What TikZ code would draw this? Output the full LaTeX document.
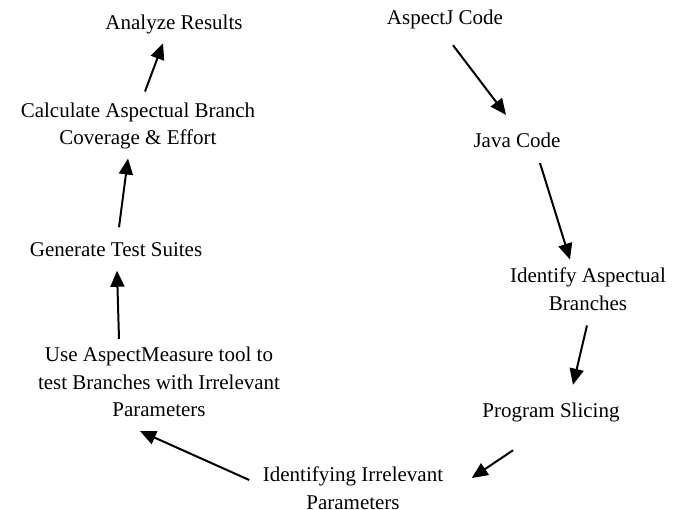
\documentclass[tikz,border=0pt]{standalone}
\usepackage{fontspec}
\setmainfont{Liberation Serif}
\usetikzlibrary{arrows.meta}

\begin{document}
\begin{tikzpicture}[x=1pt, y=-1pt, >={Triangle[length=16pt,width=14pt]},
    stage/.style={align=center, inner sep=0pt, font=\fontsize{21}{27.5}\selectfont},
    flow/.style={->, line width=2pt}]

        % page frame
        \useasboundingbox (0,0) rectangle (680,510);

        % right side: from the source code down to the parameters
        \node[stage] (aspectj) at (445,19) {AspectJ Code};
        \node[stage] (java) at (517,140) {Java Code};
        \node[stage] (branches) at (588,289) {Identify Aspectual\\Branches};
        \node[stage] (slicing) at (551,412) {Program Slicing};
        \node[stage] (irrelevant) at (353,488) {Identifying Irrelevant\\Parameters};

        % left side: testing and results
        \node[stage] (measure) at (159,382) {Use AspectMeasure tool to\\test Branches with Irrelevant\\Parameters};
        \node[stage] (suites) at (116,250) {Generate Test Suites};
        \node[stage] (coverage) at (138,126) {Calculate Aspectual Branch\\Coverage \& Effort};
        \node[stage] (results) at (174,24) {Analyze Results};

        % arrows round the cycle
        \draw[flow] ([shift={(8,16.5)}]aspectj.south) -- ([shift={(-11,-17.5)}]java.north);
        \draw[flow] ([shift={(23,15.5)}]java.south) -- ([shift={(-18,-8)}]branches.north);
        \draw[flow] ([shift={(-1,15)}]branches.south) -- ([shift={(22,-17.5)}]slicing.north);
        \draw[flow] ([shift={(-38,28.5)}]slicing.south) -- ([shift={(28.5,-10)}]irrelevant.east);
        \draw[flow] ([shift={(-13.5,-8)}]irrelevant.west) -- ([shift={(-19,14)}]measure.south);
        \draw[flow] ([shift={(-40,-8)}]measure.north) -- ([shift={(1,13.5)}]suites.south);
        \draw[flow] ([shift={(3,-15.5)}]suites.north) -- ([shift={(-10,9)}]coverage.south);
        \draw[flow] ([shift={(7,-11)}]coverage.north) -- ([shift={(-11,9.5)}]results.south);

    \end{tikzpicture}
\end{document}
